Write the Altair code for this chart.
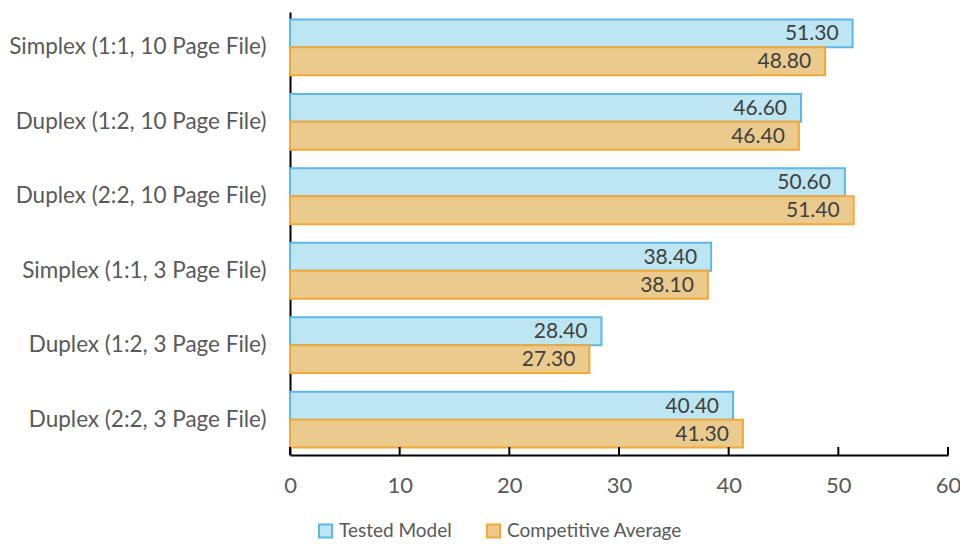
import altair as alt
import pandas as pd

categories = [
    "Simplex (1:1, 10 Page File)",
    "Duplex (1:2, 10 Page File)",
    "Duplex (2:2, 10 Page File)",
    "Simplex (1:1, 3 Page File)",
    "Duplex (1:2, 3 Page File)",
    "Duplex (2:2, 3 Page File)",
]
series = ["Tested Model", "Competitive Average"]
tested = [51.30, 46.60, 50.60, 38.40, 28.40, 40.40]
competitive = [48.80, 46.40, 51.40, 38.10, 27.30, 41.30]
x_ticks = [0, 10, 20, 30, 40, 50, 60]

rows = []
for c, t, k in zip(categories, tested, competitive):
    rows.append({"cat": c, "series": series[0], "value": t})
    rows.append({"cat": c, "series": series[1], "value": k})
df = pd.DataFrame(rows)
df["label"] = df["value"].map(lambda v: f"{v:.2f}")
ticks_df = pd.DataFrame({"tick": x_ticks})

FONT = "Lato"
W, H = 658, 443

x_scale = alt.Scale(domain=[0, 60], nice=False)

y_enc = alt.Y("cat:N", sort=categories, title=None,
              scale=alt.Scale(paddingInner=0.25, paddingOuter=0.1),
              axis=alt.Axis(domainColor="black", domainWidth=2, ticks=False,
                            labelPadding=24, labelFontSize=22.5, labelColor="#595959",
                            labelFont=FONT, labelLimit=400))
x_enc = alt.X("value:Q", title=None, scale=x_scale,
              axis=alt.Axis(values=x_ticks, grid=False, domainColor="black", domainWidth=2,
                            ticks=False, labelPadding=20, labelFontSize=22, labelFlush=False,
                            labelColor="#595959", labelFont=FONT))
yoff = alt.YOffset("series:N", sort=series)

bars = alt.Chart(df).mark_bar(strokeWidth=2).encode(
    y=y_enc, x=x_enc, yOffset=yoff,
    color=alt.Color("series:N", sort=series, title=None,
                    scale=alt.Scale(domain=series, range=["#BDE5F2", "#EBCA8E"]),
                    legend=alt.Legend(orient="none", legendX=26, legendY=509,
                                      direction="horizontal", symbolType="square",
                                      symbolSize=170, symbolStrokeWidth=2,
                                      labelFontSize=19, labelColor="#595959", labelLimit=400,
                                      labelFont=FONT, columnPadding=30, labelOffset=4)),
    stroke=alt.Stroke("series:N", sort=series, legend=None,
                      scale=alt.Scale(domain=series, range=["#5BB8E8", "#F5A833"])),
)

labels = alt.Chart(df).mark_text(align="right", baseline="middle", dx=-14, dy=1, fontSize=21,
                                 color="#404040", font=FONT).encode(
    y=alt.Y("cat:N", sort=categories), x=alt.X("value:Q", scale=x_scale), yOffset=yoff,
    text="label:N"
)

tick_marks = alt.Chart(ticks_df).mark_rule(color="black", strokeWidth=2).encode(
    x=alt.X("tick:Q", scale=x_scale),
    y=alt.value(H - 8), y2=alt.value(H),
)

chart = (bars + labels + tick_marks).properties(
    width=W, height=H,
    autosize=alt.AutoSizeParams(type="none"),
    padding={"left": 282, "top": 4, "right": 12, "bottom": 85},
).configure(background="white").configure_view(stroke=None)

chart.save("out.html", embed_options={"renderer": "svg", "actions": False})
